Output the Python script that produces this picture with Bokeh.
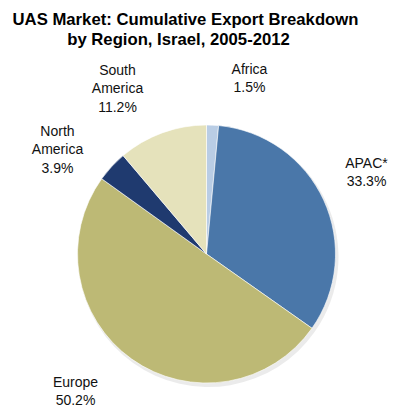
import math
from bokeh.plotting import figure
from bokeh.models import Range1d, ColumnDataSource
from bokeh.core.properties import value
from bokeh.embed import file_html
from bokeh.resources import INLINE

# ---- data ----
regions = ["Africa", "APAC*", "Europe", "North\nAmerica", "South\nAmerica"]
shares = [1.5, 33.3, 50.2, 3.9, 11.2]
colors = ["#b9cde5", "#4a77a9", "#bdb975", "#1f3a6f", "#e5e2bb"]
title_lines = ["UAS Market: Cumulative Export Breakdown", "by Region, Israel, 2005-2012"]

# ---- layout (picture pixel coordinates; y flipped for data space) ----
W, H = 399, 411
cx, cy_screen, radius = 206, 253.5, 129
label_pos = [(249, 68), (366, 162), (75, 381), (57, 130), (117, 69)]

total = sum(shares)
starts, ends = [], []
cum = 0.0
for s in shares:
    a0 = math.pi / 2 - 2 * math.pi * cum / total
    cum += s
    a1 = math.pi / 2 - 2 * math.pi * cum / total
    starts.append(a0)
    ends.append(a1)

src = ColumnDataSource(dict(start=starts, end=ends, color=colors))

p = figure(width=W, height=H, output_backend="svg", toolbar_location=None,
           x_range=Range1d(0, W), y_range=Range1d(0, H),
           min_border=0, outline_line_color=None)
p.axis.visible = False
p.grid.visible = False
p.background_fill_color = "white"
p.border_fill_color = "white"

cy = H - cy_screen
# soft shadow
p.wedge(x=cx + 2, y=cy - 3, radius=radius + 1, start_angle="start", end_angle="end",
        direction="clock", source=src, fill_color="#000000", fill_alpha=0.08,
        line_color=None)
p.wedge(x=cx, y=cy, radius=radius, start_angle="start", end_angle="end",
        direction="clock", source=src, fill_color="color", line_color="#ffffff",
        line_width=1, line_alpha=0.6)

lbl_text = [f"{r}\n{s:.1f}%" for r, s in zip(regions, shares)]
lx = [pp[0] for pp in label_pos]
ly_top = [H - (pp[1] - 8) for pp in label_pos]
p.text(x=lx, y=ly_top, text=lbl_text, text_align="center", text_baseline="top",
       text_font=value("Liberation Sans"), text_font_size="14px", text_color="#111111",
       text_line_height=1.17)

p.text(x=[185, 178], y=[H - 18.5, H - 39], text=title_lines,
       text_align="center", text_baseline="middle",
       text_font=value("Liberation Sans"), text_font_size="16.7px",
       text_font_style="bold", text_color="#000000")

open("out.html", "w").write(file_html(p, INLINE))
